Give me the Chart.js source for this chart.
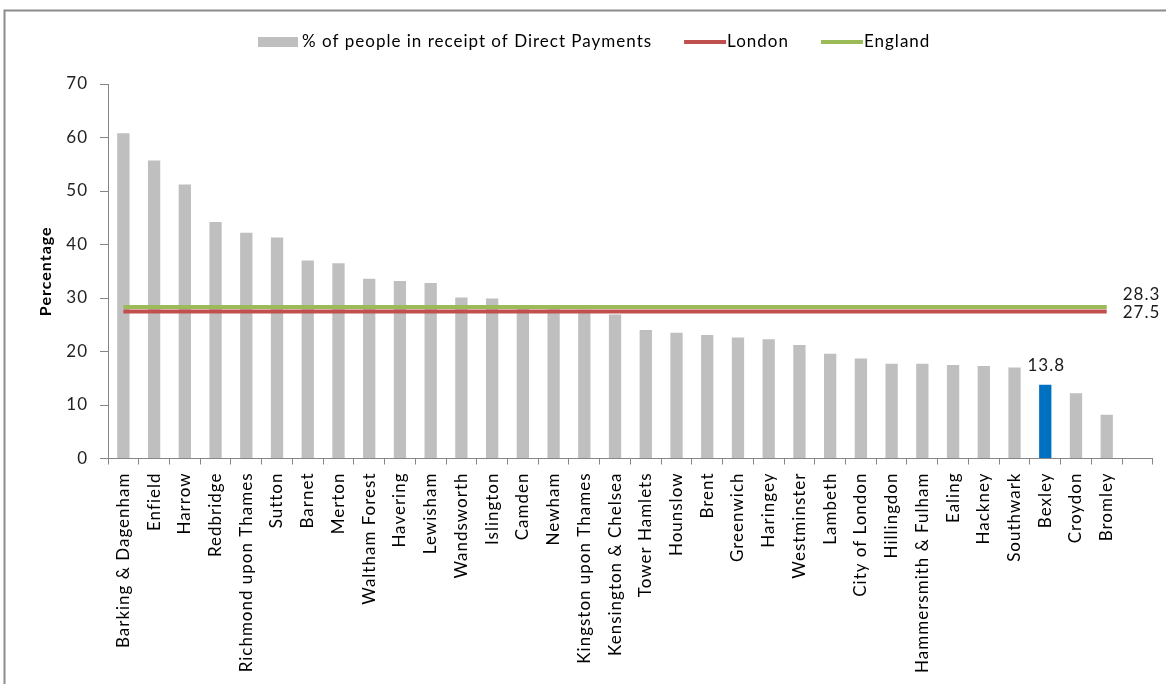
<!DOCTYPE html>
<html>
<head>
<meta charset="utf-8">
<script src="https://cdn.jsdelivr.net/npm/chart.js@4.4.1/dist/chart.umd.min.js"></script>
<style>
  html, body { margin: 0; padding: 0; background: #fff; overflow: hidden; }
  #wrap { width: 1166px; height: 684px; position: relative; }
</style>
</head>
<body>
<div id="wrap"><canvas id="chart" width="1166" height="684"></canvas></div>
<script>
// London boroughs, ordered by share of people receiving Direct Payments.
// The trailing empty slot leaves room for the average labels.
const boroughs = [
  'Barking & Dagenham', 'Enfield', 'Harrow', 'Redbridge', 'Richmond upon Thames',
  'Sutton', 'Barnet', 'Merton', 'Waltham Forest', 'Havering', 'Lewisham',
  'Wandsworth', 'Islington', 'Camden', 'Newham', 'Kingston upon Thames',
  'Kensington & Chelsea', 'Tower Hamlets', 'Hounslow', 'Brent', 'Greenwich',
  'Haringey', 'Westminster', 'Lambeth', 'City of London', 'Hillingdon',
  'Hammersmith & Fulham', 'Ealing', 'Hackney', 'Southwark', 'Bexley',
  'Croydon', 'Bromley', ''
];

// % of people in receipt of Direct Payments
const directPaymentPct = [
  60.8, 55.7, 51.2, 44.2, 42.2,
  41.3, 37.0, 36.5, 33.6, 33.2, 32.8,
  30.1, 29.9, 28.0, 27.9, 27.8,
  26.9, 24.0, 23.5, 23.1, 22.6,
  22.3, 21.2, 19.6, 18.7, 17.7,
  17.7, 17.5, 17.3, 17.0, 13.8,
  12.2, 8.2, null
];

// Benchmark averages
const londonRate = 27.5;
const englandRate = 28.3;

const highlightedBorough = 'Bexley';
const yTickValues = [0, 10, 20, 30, 40, 50, 60, 70];

const FONT = 'Lato, "Open Sans", sans-serif';
const AXIS_GREY = '#868686';
const LETTER_SPACING = '1px';

const benchmarkLine = rate => boroughs.map(b => (b ? rate : null));

// Slightly open letter spacing for all text on the canvas
const spacingPlugin = {
  id: 'spacing',
  beforeLayout(chart) { chart.ctx.letterSpacing = LETTER_SPACING; },
  beforeDraw(chart) { chart.ctx.letterSpacing = LETTER_SPACING; }
};

// White background and the outer frame of the chart object
const framePlugin = {
  id: 'frame',
  beforeDraw(chart) {
    const ctx = chart.ctx;
    ctx.save();
    ctx.fillStyle = '#fff';
    ctx.fillRect(0, 0, chart.width, chart.height);
    ctx.strokeStyle = '#8c8c8c';
    ctx.lineWidth = 2;
    ctx.beginPath();
    ctx.moveTo(4.5, chart.height);
    ctx.lineTo(4.5, 10.5);
    ctx.lineTo(chart.width, 10.5);
    ctx.stroke();
    ctx.restore();
  }
};

// Legend row across the top: a grey block for the bars, short strokes for the averages
const legendRowPlugin = {
  id: 'legendRow',
  afterDraw(chart) {
    const ctx = chart.ctx;
    const y = 42;
    const markerW = 40;
    const itemGap = 32;
    ctx.save();
    ctx.font = '17px ' + FONT;
    ctx.fillStyle = '#000';
    ctx.textAlign = 'left';
    ctx.textBaseline = 'middle';
    let x = 258;
    chart.data.datasets.forEach(ds => {
      if (ds.type === 'bar') {
        ctx.fillStyle = '#BFBFBF';
        ctx.fillRect(x, y - 5, markerW, 10);
        x += markerW + 4;
      } else {
        ctx.strokeStyle = ds.borderColor;
        ctx.lineWidth = 4;
        ctx.beginPath();
        ctx.moveTo(x, y);
        ctx.lineTo(x + markerW + 2, y);
        ctx.stroke();
        x += markerW + 3;
      }
      ctx.fillStyle = '#000';
      ctx.fillText(ds.label, x, y);
      x += ctx.measureText(ds.label).width + itemGap;
    });
    ctx.restore();
  }
};

// Value labels: the highlighted bar and the right-hand end of each average line
const valueLabelPlugin = {
  id: 'valueLabels',
  afterDatasetsDraw(chart) {
    const ctx = chart.ctx;
    ctx.save();
    ctx.font = '17px ' + FONT;
    ctx.fillStyle = '#1a1a1a';

    const barMeta = chart.getDatasetMeta(0);
    const hi = boroughs.indexOf(highlightedBorough);
    const bar = barMeta.data[hi];
    ctx.textAlign = 'center';
    ctx.textBaseline = 'bottom';
    ctx.fillText(directPaymentPct[hi].toFixed(1), bar.x + 1, bar.y - 11);

    const lastIdx = boroughs.length - 2;
    ctx.textAlign = 'left';
    ctx.textBaseline = 'middle';
    [[1, 1], [2, -13]].forEach(([dsIndex, dy]) => {
      const pt = chart.getDatasetMeta(dsIndex).data[lastIdx];
      const value = chart.data.datasets[dsIndex].data[lastIdx];
      ctx.fillText(value.toFixed(1), pt.x + 16, pt.y + dy);
    });
    ctx.restore();
  }
};

new Chart(document.getElementById('chart'), {
  data: {
    labels: boroughs,
    datasets: [
      {
        type: 'bar',
        label: '% of people in receipt of Direct Payments',
        data: directPaymentPct,
        backgroundColor: boroughs.map(b => (b === highlightedBorough ? '#0070C0' : '#BFBFBF')),
        borderWidth: 0,
        categoryPercentage: 1,
        barPercentage: 0.4,
        order: 3
      },
      {
        type: 'line',
        label: 'London',
        data: benchmarkLine(londonRate),
        borderColor: '#C0504D',
        backgroundColor: '#C0504D',
        borderWidth: 4,
        pointRadius: 0,
        tension: 0,
        order: 2
      },
      {
        type: 'line',
        label: 'England',
        data: benchmarkLine(englandRate),
        borderColor: '#9BBB59',
        backgroundColor: '#9BBB59',
        borderWidth: 4,
        pointRadius: 0,
        tension: 0,
        order: 1
      }
    ]
  },
  options: {
    responsive: false,
    animation: false,
    layout: { autoPadding: false, padding: { left: 0, right: 10, top: 84, bottom: 0 } },
    plugins: {
      tooltip: { enabled: false },
      legend: { display: false }
    },
    scales: {
      x: {
        type: 'category',
        offset: true,
        afterFit(scale) { scale.height = 225.5; },
        grid: {
          display: true,
          drawOnChartArea: false,
          offset: true,
          tickLength: 6,
          color: AXIS_GREY
        },
        border: { color: AXIS_GREY, width: 1 },
        ticks: {
          autoSkip: false,
          minRotation: 90,
          maxRotation: 90,
          padding: 8,
          color: '#000',
          font: { family: FONT, size: 17 }
        }
      },
      y: {
        min: 0,
        max: 70,
        afterFit(scale) { scale.width = 108; },
        afterBuildTicks(scale) { scale.ticks = yTickValues.map(v => ({ value: v })); },
        grid: {
          display: true,
          drawOnChartArea: false,
          tickLength: 8,
          color: AXIS_GREY
        },
        border: { color: AXIS_GREY, width: 1 },
        ticks: {
          padding: 12,
          color: '#222',
          font: { family: FONT, size: 17 }
        },
        title: {
          display: true,
          text: 'Percentage',
          color: '#000',
          font: { family: FONT, size: 16, weight: 'bold' },
          padding: { top: 36, bottom: 0 }
        }
      }
    }
  },
  plugins: [spacingPlugin, framePlugin, legendRowPlugin, valueLabelPlugin]
});
</script>
</body>
</html>
